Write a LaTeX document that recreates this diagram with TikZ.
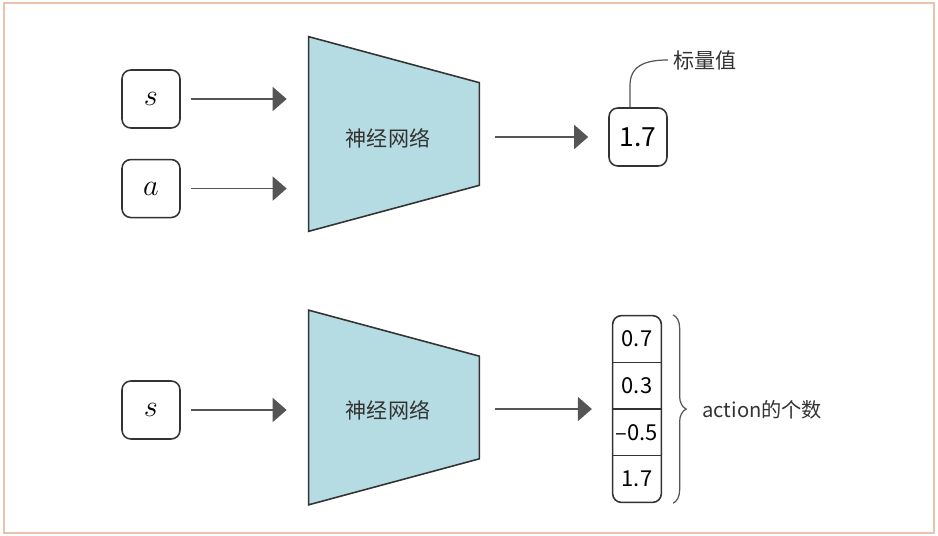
\documentclass[tikz,border=0pt]{standalone}
\usepackage{fix-cm}
\usepackage{fontspec}
\setmainfont{Noto Sans CJK SC}
\usetikzlibrary{positioning,arrows.meta,fit,decorations.pathreplacing,calc}
\definecolor{nnblue}{HTML}{B6DCE3}
\definecolor{nngrey}{HTML}{555555}
\definecolor{nnline}{HTML}{333333}
\definecolor{nnframe}{HTML}{EBC2AC}

\begin{document}
\begin{tikzpicture}[x=0.02cm,y=-0.02cm,
  font=\fontsize{12}{14}\selectfont,
  box/.style={draw=nnline,rounded corners=5pt,line width=0.9pt,minimum size=1.16cm,inner sep=0pt},
  cell/.style={minimum width=0.96cm,minimum height=0.92cm,inner sep=0pt,font=\fontsize{12.5}{14}\selectfont},
  net/.style={minimum width=3.4cm,minimum height=3.88cm,inner sep=0pt},
  netshape/.style={draw=nnline,fill=nnblue,line width=0.9pt},
  arr/.style={-{Triangle[length=2.8mm,width=4.8mm]},nngrey,line width=1pt},
  inarr/.style={arr,shorten <=0.2cm,shorten >=0.44cm},
  outarr/.style={arr,shorten <=0.32cm,shorten >=0.4cm},
  lbl/.style={inner sep=0pt,text=nnline}]

  \useasboundingbox (0,0) rectangle (938,536);
  \draw[nnframe,line width=1.2pt] (4,3) rectangle (934,533);

  % upper part: state and action in, scalar out
  \node[box] (s1) at (151,99) {\LARGE$s$};
  \node[box,below=0.6cm of s1] (a1) {\LARGE$a$};
  \node[net] (net1) at (394,134) {};
  \draw[netshape] (net1.north west) -- ([yshift=-0.92cm]net1.north east)
    -- ([yshift=0.92cm]net1.south east) -- (net1.south west) -- cycle;
  \node[lbl] (nn1) at (388,138) {神经网络};
  \node[box,font=\fontsize{15}{17}\selectfont] (v1) at (638,137) {1.7};
  \node[lbl,anchor=west] (tag) at (673,60) {标量值};

  \draw[inarr] (s1) -- (s1 -| net1.west);
  \draw[inarr] (a1) -- (a1 -| net1.west);
  \draw[outarr] (net1.east |- v1) -- (v1);
  \draw[nngrey,line width=0.7pt] ([xshift=-0.16cm]v1.north) -- ++(0,-22)
    .. controls +(0,-22) and +(-18,0) .. ([xshift=-0.1cm]tag.west);

  % lower part: state in, one value per action out
  \node[box] (s2) at (151,410) {\LARGE$s$};
  \node[net] (net2) at (394,407.5) {};
  \draw[netshape] (net2.north west) -- ([yshift=-0.92cm]net2.north east)
    -- ([yshift=0.92cm]net2.south east) -- (net2.south west) -- cycle;
  \node[lbl] (nn2) at (388,410) {神经网络};

  \node[cell] (c1) at (637,339) {0.7};
  \node[cell,below=0pt of c1] (c2) {0.3};
  \node[cell,below=0pt of c2] (c3) {–0.5};
  \node[cell,below=0pt of c3] (c4) {1.7};
  \node[draw=nnline,rounded corners=5pt,line width=0.9pt,inner sep=0pt,fit=(c1)(c4)] (col) {};
  \foreach \c in {c1,c2,c3}
    \draw[nnline,line width=0.8pt] (\c.south west) -- (\c.south east);

  \draw[inarr] (s2) -- (s2 -| net2.west);
  \draw[outarr] (net2.east |- c2.south) -- (col.west |- c2.south);
  \draw[nngrey,line width=0.7pt,decorate,decoration={brace,amplitude=0.26cm}]
    ([xshift=0.22cm]col.north east) -- ([xshift=0.22cm]col.south east);
  \node[lbl,anchor=west,font=\fontsize{11.5}{14}\selectfont] (cnt) at (702,410) {action的个数};
\end{tikzpicture}
\end{document}
